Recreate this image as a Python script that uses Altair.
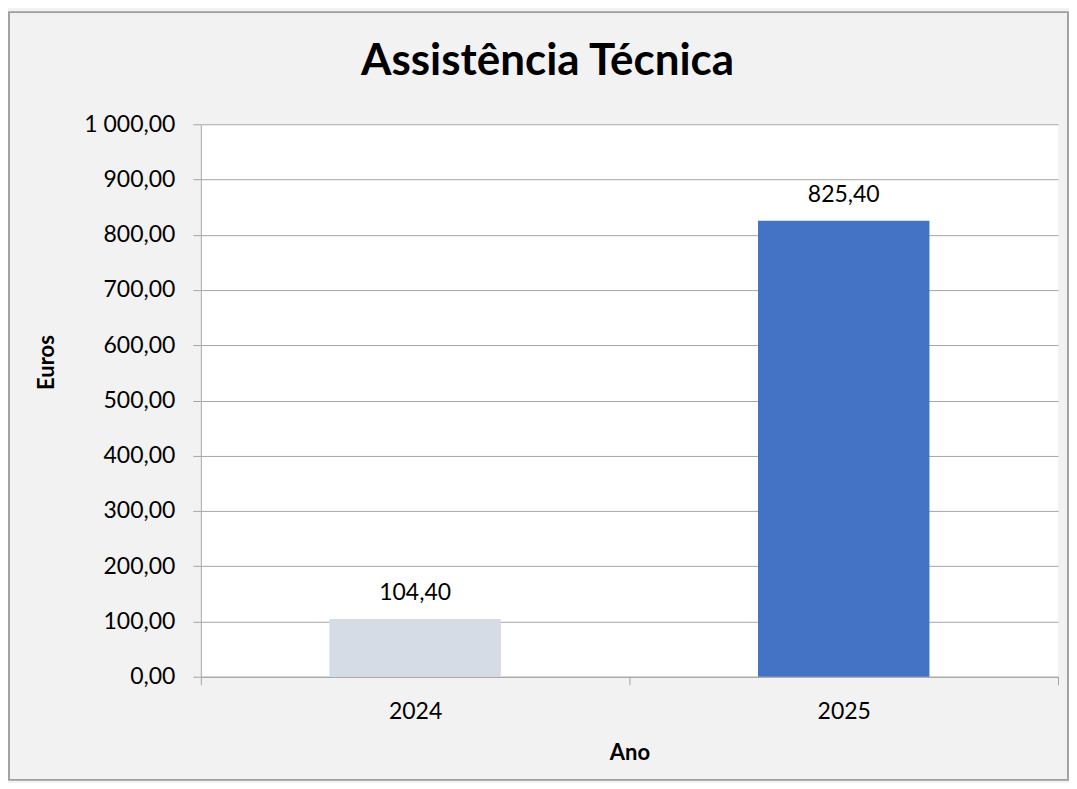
import altair as alt
import pandas as pd

anos = ["2024", "2025"]
valores = [104.40, 825.40]
cores = ["#D6DCE5", "#4472C4"]

df = pd.DataFrame({"Ano": anos, "Euros": valores, "Cor": cores})

FONT = "Lato"
GRAY = "#A6A6A6"

x = alt.X(
    "Ano:N",
    title="Ano",
    scale=alt.Scale(paddingInner=0, paddingOuter=0),
    axis=alt.Axis(
        labelAngle=0, labelFontSize=23, labelFont=FONT, labelColor="#000000",
        labelBaseline="alphabetic", labelPadding=34,
        tickBand="extent", tickSize=8, tickColor=GRAY, domainColor=GRAY,
        titleFont=FONT, titleFontSize=22, titleFontWeight="bold", titleColor="#000000",
        titleX=429, titleY=83, titleBaseline="alphabetic", titleAnchor="start", titleAlign="center",
        grid=False,
    ),
)
y = alt.Y(
    "Euros:Q",
    title="Euros",
    scale=alt.Scale(domain=[0, 1000]),
    axis=alt.Axis(
        values=[0, 100, 200, 300, 400, 500, 600, 700, 800, 900, 1000],
        format=",.2f", labelFontSize=23, labelFont=FONT, labelColor="#000000",
        labelPadding=18, tickSize=8, tickColor=GRAY, domainColor=GRAY,
        gridColor=GRAY, grid=True,
        titleFont=FONT, titleFontSize=22, titleFontWeight="bold", titleColor="#000000",
        titleAngle=270, titleX=-154, titleY=238, titleBaseline="middle", titleAlign="center",
        titleAnchor="start",
    ),
)

bars = alt.Chart(df).mark_bar(width=alt.RelativeBandSize(0.4)).encode(
    x=x, y=y, color=alt.Color("Cor:N", scale=None)
)
labels = alt.Chart(df).mark_text(
    font=FONT, fontSize=23, baseline="alphabetic", dy=-19, color="#000000"
).encode(
    x="Ano:N", y="Euros:Q", text=alt.Text("Euros:Q", format=",.2f")
)
frame = alt.Chart(df).mark_rect(
    fill=None, stroke="#9E9E9E", strokeWidth=1.5, clip=False
).encode(
    x=alt.value(-192), x2=alt.value(868), y=alt.value(-112), y2=alt.value(656)
)

chart = alt.layer(frame, bars, labels).properties(
    width=858,
    height=553,
    title=alt.TitleParams(
        "Assistência Técnica", font=FONT, fontSize=44, fontWeight="bold",
        color="#000000", anchor="middle", dx=-82, offset=0, baseline="alphabetic", dy=107,
    ),
    autosize=alt.AutoSizeParams(type="none"),
    padding={"left": 193, "top": 116, "right": 11, "bottom": 106},
).configure(
    background="#F2F2F2",
    locale=alt.Locale(number=alt.NumberLocale(decimal=",", thousands=" ", grouping=[3], currency=["", " €"])),
).configure_view(fill="#FFFFFF", stroke=None)

chart.save("out.html", embed_options={"renderer": "svg", "actions": False})
